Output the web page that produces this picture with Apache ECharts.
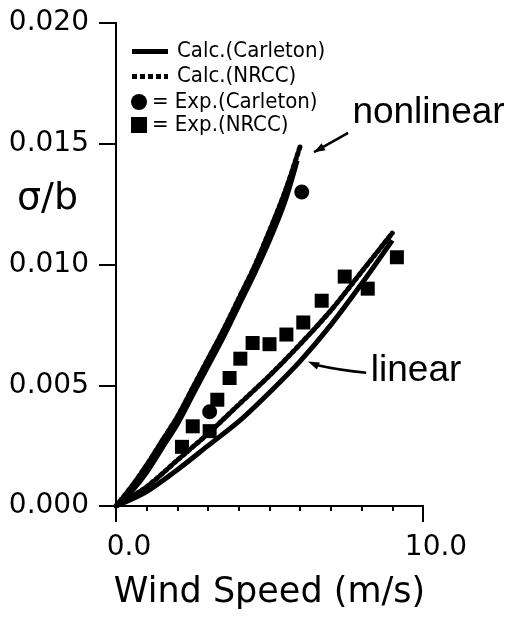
<!DOCTYPE html>
<html>
<head>
<meta charset="utf-8">
<script src="https://cdn.jsdelivr.net/npm/echarts@6/dist/echarts.min.js"></script>
<style>
  html, body { margin: 0; padding: 0; background: #fff; }
  #chart { width: 511px; height: 621px; }
</style>
</head>
<body>
<div id="chart"></div>
<script>
// Wind speed (m/s) and normalised response sigma/b
const calcCarletonNonlinearX = [0, 0.5, 1.0, 1.5, 2.0, 2.5, 3.0, 3.5, 4.0, 4.5, 5.0, 5.5, 5.9];
const calcCarletonNonlinearY = [0, 0.0006, 0.0014, 0.0024, 0.0034, 0.0046, 0.0058, 0.0070, 0.0083, 0.0096, 0.0110, 0.0126, 0.0143];

const calcNrccNonlinearX = [0, 0.5, 1.0, 1.5, 2.0, 2.5, 3.0, 3.5, 4.0, 4.5, 5.0, 5.5, 6.0];
const calcNrccNonlinearY = [0, 0.0008, 0.0017, 0.0027, 0.0037, 0.0049, 0.0061, 0.0073, 0.0086, 0.0099, 0.0114, 0.0130, 0.0149];

const calcCarletonLinearX = [0, 1, 2, 3, 4, 5, 6, 7, 8, 9];
const calcCarletonLinearY = [0, 0.0006, 0.0015, 0.0025, 0.0035, 0.0047, 0.0060, 0.0075, 0.0092, 0.0110];

const calcNrccLinearX = [0, 1, 2, 3, 4, 5, 6, 7, 8, 9];
const calcNrccLinearY = [0, 0.0008, 0.0019, 0.0030, 0.0042, 0.0054, 0.0067, 0.0081, 0.0097, 0.0113];

const expCarletonX = [3.05, 6.05];
const expCarletonY = [0.0039, 0.0130];

const expNrccX = [2.15, 2.5, 3.05, 3.3, 3.7, 4.05, 4.45, 5.0, 5.55, 6.1, 6.7, 7.45, 8.2, 9.15];
const expNrccY = [0.00245, 0.0033, 0.0031, 0.0044, 0.0053, 0.0061, 0.00675, 0.0067, 0.0071, 0.0076, 0.0085, 0.0095, 0.0090, 0.0103];

const xTicks = [0, 10];
const yTicks = [0, 0.005, 0.010, 0.015, 0.020];

const zip = (xs, ys) => xs.map((x, i) => [x, ys[i]]);

const chart = echarts.init(document.getElementById('chart'), null, { renderer: 'canvas' });

const tickFont = 'DejaVu Sans';
const legendFont = 'DejaVu Sans Condensed, DejaVu Sans';
const lineCalc = { color: '#000', width: 5 };
const lineDotted = { color: '#000', width: 5, type: [3, 3], cap: 'round' };

// Legend icons: a thick bar for the solid curve, a row of dots for the dotted one
const solidIcon = 'path://M0,0H36V5H0Z';
const dottedIcon = 'path://M0,0h5v5h-5zM8,0h5v5h-5zM16,0h5v5h-5zM24,0h5v5h-5zM32,0h4v5h-4z';

const option = {
  animation: false,
  backgroundColor: '#fff',
  grid: { left: 116, right: 88, top: 23, bottom: 115, containLabel: false },
  legend: [
    {
      data: [
        { name: 'Calc.(Carleton)', icon: solidIcon },
        { name: 'Calc.(NRCC)', icon: dottedIcon }
      ],
      orient: 'vertical', left: 127, top: 34,
      itemWidth: 36, itemHeight: 5, itemGap: 0,
      textStyle: { fontFamily: legendFont, fontSize: 22, color: '#000', lineHeight: 25, padding: [0, 0, 0, 4] }
    },
    {
      data: ['Exp.(Carleton)', 'Exp.(NRCC)'],
      orient: 'vertical', left: 126, top: 86,
      itemWidth: 16, itemHeight: 16, itemGap: 1,
      formatter: name => '= ' + name,
      textStyle: { fontFamily: legendFont, fontSize: 22, color: '#000', lineHeight: 22 }
    }
  ],
  xAxis: [
    {
      type: 'value', min: 0, max: 10, interval: 10,
      name: 'Wind Speed (m/s)', nameLocation: 'middle', nameGap: 69,
      nameTextStyle: { fontFamily: tickFont, fontSize: 35, color: '#000' },
      axisLine: { onZero: false, lineStyle: { color: '#000', width: 2 } },
      axisTick: { show: true, inside: false, length: 16, lineStyle: { color: '#000', width: 2 } },
      minorTick: { show: true, splitNumber: 10, length: 5, lineStyle: { color: '#000', width: 2 } },
      axisLabel: {
        fontFamily: tickFont, fontSize: 28, color: '#000', margin: 28,
        padding: [0, 0, 0, 26],
        formatter: v => xTicks.includes(v) ? v.toFixed(1) : ''
      },
      splitLine: { show: false }
    },
    {
      type: 'value', min: 0, max: 10, position: 'top',
      axisLine: { show: true, lineStyle: { color: '#000', width: 2 } },
      axisTick: { show: false }, axisLabel: { show: false }, splitLine: { show: false }
    }
  ],
  yAxis: [
    {
      type: 'value', min: 0, max: 0.02, interval: 0.005,
      axisLine: { onZero: false, lineStyle: { color: '#000', width: 2 } },
      axisTick: { show: true, inside: false, length: 17, lineStyle: { color: '#000', width: 2 } },
      axisLabel: {
        fontFamily: tickFont, fontSize: 28, color: '#000', margin: 27,
        formatter: v => yTicks.some(t => Math.abs(t - v) < 1e-9) ? v.toFixed(3) : ''
      },
      splitLine: { show: false }
    },
    {
      type: 'value', min: 0, max: 0.02, position: 'right',
      axisLine: { show: true, lineStyle: { color: '#000', width: 2 } },
      axisTick: { show: false }, axisLabel: { show: false }, splitLine: { show: false }
    }
  ],
  series: [
    {
      name: 'Calc.(Carleton)', type: 'line', smooth: 0.3, symbol: 'none',
      data: zip(calcCarletonNonlinearX, calcCarletonNonlinearY), lineStyle: lineCalc, itemStyle: { color: '#000' }, z: 3
    },
    {
      name: 'Calc.(Carleton)', type: 'line', smooth: 0.3, symbol: 'none',
      data: zip(calcCarletonLinearX, calcCarletonLinearY), lineStyle: lineCalc, itemStyle: { color: '#000' }, z: 3
    },
    {
      name: 'Calc.(NRCC)', type: 'line', smooth: 0.3, symbol: 'none',
      data: zip(calcNrccNonlinearX, calcNrccNonlinearY), lineStyle: lineDotted, itemStyle: { color: '#000' }, z: 3
    },
    {
      name: 'Calc.(NRCC)', type: 'line', smooth: 0.3, symbol: 'none',
      data: zip(calcNrccLinearX, calcNrccLinearY), lineStyle: lineDotted, itemStyle: { color: '#000' }, z: 3
    },
    {
      name: 'Exp.(Carleton)', type: 'scatter', symbol: 'circle', symbolSize: 15,
      data: zip(expCarletonX, expCarletonY), itemStyle: { color: '#000', opacity: 1 }, z: 4
    },
    {
      name: 'Exp.(NRCC)', type: 'scatter', symbol: 'rect', symbolSize: 14,
      data: zip(expNrccX, expNrccY), itemStyle: { color: '#000', opacity: 1 }, z: 4
    }
  ]
};

chart.setOption(option);

// Callouts placed in data space
const px = p => chart.convertToPixel({ gridIndex: 0 }, p);
const nlText = px([7.7, 0.0163]);
const nlTail = px([7.56, 0.01545]);
const nlHead = px([6.45, 0.01465]);
const lnText = px([8.3, 0.0056]);
const lnTail = px([8.15, 0.00552]);
const lnHead = px([6.25, 0.00598]);

chart.setOption({
  graphic: [
    {
      type: 'text', left: 17, top: 180,
      style: { text: 'σ/b', font: '38px "DejaVu Sans"', fill: '#000' }
    },
    {
      type: 'text', x: nlText[0], y: nlText[1],
      style: { text: 'nonlinear', font: '37px "Liberation Sans"', fill: '#000', verticalAlign: 'middle', align: 'left' }
    },
    {
      type: 'line', shape: { x1: nlTail[0], y1: nlTail[1], x2: nlHead[0], y2: nlHead[1] },
      style: { stroke: '#000', lineWidth: 2.5 }
    },
    {
      type: 'polygon',
      shape: (() => {
        const dx = nlHead[0] - nlTail[0], dy = nlHead[1] - nlTail[1];
        const L = Math.hypot(dx, dy), ux = dx / L, uy = dy / L;
        const b = [nlHead[0] - ux * 11, nlHead[1] - uy * 11];
        return { points: [nlHead, [b[0] - uy * 4, b[1] + ux * 4], [b[0] + uy * 4, b[1] - ux * 4]] };
      })(),
      style: { fill: '#000' }
    },
    {
      type: 'text', x: lnText[0], y: lnText[1],
      style: { text: 'linear', font: '37px "Liberation Sans"', fill: '#000', verticalAlign: 'middle', align: 'left' }
    },
    {
      type: 'bezierCurve',
      shape: {
        x1: lnTail[0], y1: lnTail[1], x2: lnHead[0] + 6, y2: lnHead[1] + 3,
        cpx1: lnTail[0] - 25, cpy1: lnTail[1] - 2
      },
      style: { stroke: '#000', lineWidth: 2.5, fill: null }
    },
    {
      type: 'polygon',
      shape: { points: [lnHead, [lnHead[0] + 12, lnHead[1] + 1], [lnHead[0] + 9, lnHead[1] + 8]] },
      style: { fill: '#000' }
    }
  ]
});
</script>
</body>
</html>
